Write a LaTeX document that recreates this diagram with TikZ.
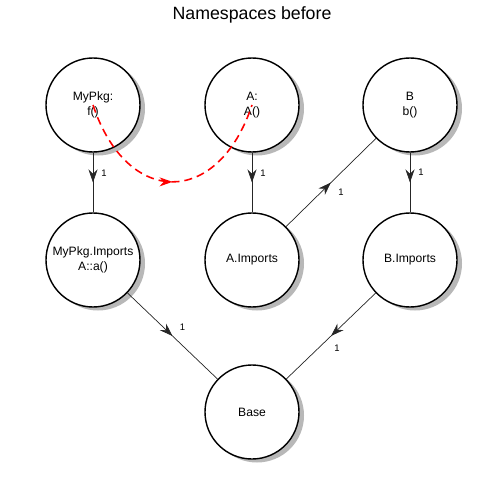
\documentclass[tikz,border=0pt]{standalone}
\usepackage{fontspec}
\setmainfont{Liberation Sans}
\usetikzlibrary{arrows.meta,decorations.markings,shadows,positioning}
\tikzset{
  ns/.style={circle,draw,line width=0.8pt,fill=white,minimum size=1.88cm,inner sep=0pt,
    align=center,font=\fontsize{6.9}{8.2}\selectfont,
    drop shadow={shadow xshift=0.1cm,shadow yshift=-0.07cm,fill=black!28,opacity=1}},
  dep/.style={draw=black!85,line width=0.4pt,postaction={decorate},
    decoration={markings,mark=at position 0.5 with {\arrow{Stealth[length=2.6mm,width=1.8mm]}}}},
  one/.style={font=\fontsize{5.4}{6}\selectfont,inner sep=0pt},
  call/.style={draw=red,line width=0.9pt,dash pattern=on 1.6mm off 1mm,postaction={decorate},
    decoration={markings,mark=at position 0.5 with {\arrow[solid]{Stealth[length=2.6mm,width=1.8mm]}}}}
}
\begin{document}
\begin{tikzpicture}
\useasboundingbox (0,0) rectangle (10.08,-10.08);
\node (title) at (5.04,-0.30) {\fontsize{10.1}{12}\selectfont Namespaces before};
\node (mypkg) at (1.86,-2.10) [ns] {MyPkg:\\f()};
\node (a) at (5.04,-2.10) [ns] {A:\\A()};
\node (b) at (8.20,-2.10) [ns] {B\\b()};
\node (mypkgimp) at (1.86,-5.20) [ns] {MyPkg.Imports\\A::a()};
\node (aimp) at (5.04,-5.20) [ns] {A.Imports};
\node (bimp) at (8.20,-5.20) [ns] {B.Imports};
\node (base) at (5.04,-8.24) [ns] {Base};
\draw[dep] (mypkg)--(mypkgimp) node[one,pos=0.5,xshift=0.22cm,yshift=0.18cm] {1};
\draw[dep] (a)--(aimp) node[one,pos=0.5,xshift=0.22cm,yshift=0.18cm] {1};
\draw[dep] (b)--(bimp) node[one,pos=0.5,xshift=0.22cm,yshift=0.20cm] {1};
\draw[dep] (aimp)--(b) node[one,pos=0.5,xshift=0.20cm,yshift=-0.20cm] {1};
\draw[dep] (mypkgimp)--(base) node[one,pos=0.5,xshift=0.20cm,yshift=0.18cm] {1};
\draw[dep] (bimp)--(base) node[one,pos=0.5,xshift=0.12cm,yshift=-0.24cm] {1};
\draw[call] (mypkg.center) .. controls +(0.68,-2.05) and +(-0.68,-2.05) .. (a.center);
\end{tikzpicture}
\end{document}
